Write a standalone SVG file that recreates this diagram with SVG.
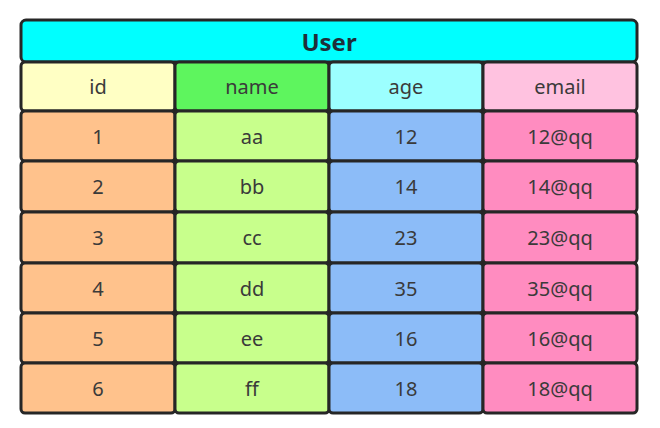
<svg xmlns="http://www.w3.org/2000/svg" width="660" height="428" viewBox="0 0 660 428">
<style>
.c{stroke:#262626;stroke-width:3}
.t{font-family:"Noto Sans","Open Sans","DejaVu Sans",sans-serif;font-size:20px;fill:#3a3a3a;text-anchor:middle;dominant-baseline:central}
.h{font-size:24px;font-weight:bold;fill:#1f2f3a}
.ih{fill:#FFFFC4}.nh{fill:#5EF55E}.ah{fill:#9CFFFF}.eh{fill:#FFC2E0}
.i{fill:#FFC28C}.n{fill:#C8FF8C}.a{fill:#8CBCF8}.e{fill:#FF8CC0}
</style>
<rect width="660" height="428" fill="#ffffff"/>
<g id="title"><rect class="c" x="21" y="20" width="616" height="42" rx="5" fill="#00FFFF"/><text class="t h" x="329" y="41">User</text></g>
<g id="header">
<g id="h-id"><rect class="c ih" x="21" y="62" width="154" height="49" rx="4"/><text class="t" x="98" y="86">id</text></g>
<g id="h-name"><rect class="c nh" x="175" y="62" width="154" height="49" rx="4"/><text class="t" x="252" y="86">name</text></g>
<g id="h-age"><rect class="c ah" x="329" y="62" width="154" height="49" rx="4"/><text class="t" x="406" y="86">age</text></g>
<g id="h-email"><rect class="c eh" x="483" y="62" width="154" height="49" rx="4"/><text class="t" x="560" y="86">email</text></g>
</g>
<g id="row1">
<g id="r1-id"><rect class="c i" x="21" y="111" width="154" height="50" rx="4"/><text class="t" x="98" y="136">1</text></g>
<g id="r1-name"><rect class="c n" x="175" y="111" width="154" height="50" rx="4"/><text class="t" x="252" y="136">aa</text></g>
<g id="r1-age"><rect class="c a" x="329" y="111" width="154" height="50" rx="4"/><text class="t" x="406" y="136">12</text></g>
<g id="r1-email"><rect class="c e" x="483" y="111" width="154" height="50" rx="4"/><text class="t" x="560" y="136">12@qq</text></g>
</g>
<g id="row2">
<g id="r2-id"><rect class="c i" x="21" y="161" width="154" height="51" rx="4"/><text class="t" x="98" y="186">2</text></g>
<g id="r2-name"><rect class="c n" x="175" y="161" width="154" height="51" rx="4"/><text class="t" x="252" y="186">bb</text></g>
<g id="r2-age"><rect class="c a" x="329" y="161" width="154" height="51" rx="4"/><text class="t" x="406" y="186">14</text></g>
<g id="r2-email"><rect class="c e" x="483" y="161" width="154" height="51" rx="4"/><text class="t" x="560" y="186">14@qq</text></g>
</g>
<g id="row3">
<g id="r3-id"><rect class="c i" x="21" y="212" width="154" height="51" rx="4"/><text class="t" x="98" y="237">3</text></g>
<g id="r3-name"><rect class="c n" x="175" y="212" width="154" height="51" rx="4"/><text class="t" x="252" y="237">cc</text></g>
<g id="r3-age"><rect class="c a" x="329" y="212" width="154" height="51" rx="4"/><text class="t" x="406" y="237">23</text></g>
<g id="r3-email"><rect class="c e" x="483" y="212" width="154" height="51" rx="4"/><text class="t" x="560" y="237">23@qq</text></g>
</g>
<g id="row4">
<g id="r4-id"><rect class="c i" x="21" y="263" width="154" height="50" rx="4"/><text class="t" x="98" y="288">4</text></g>
<g id="r4-name"><rect class="c n" x="175" y="263" width="154" height="50" rx="4"/><text class="t" x="252" y="288">dd</text></g>
<g id="r4-age"><rect class="c a" x="329" y="263" width="154" height="50" rx="4"/><text class="t" x="406" y="288">35</text></g>
<g id="r4-email"><rect class="c e" x="483" y="263" width="154" height="50" rx="4"/><text class="t" x="560" y="288">35@qq</text></g>
</g>
<g id="row5">
<g id="r5-id"><rect class="c i" x="21" y="313" width="154" height="50" rx="4"/><text class="t" x="98" y="338">5</text></g>
<g id="r5-name"><rect class="c n" x="175" y="313" width="154" height="50" rx="4"/><text class="t" x="252" y="338">ee</text></g>
<g id="r5-age"><rect class="c a" x="329" y="313" width="154" height="50" rx="4"/><text class="t" x="406" y="338">16</text></g>
<g id="r5-email"><rect class="c e" x="483" y="313" width="154" height="50" rx="4"/><text class="t" x="560" y="338">16@qq</text></g>
</g>
<g id="row6">
<g id="r6-id"><rect class="c i" x="21" y="363" width="154" height="50" rx="4"/><text class="t" x="98" y="388">6</text></g>
<g id="r6-name"><rect class="c n" x="175" y="363" width="154" height="50" rx="4"/><text class="t" x="252" y="388">ff</text></g>
<g id="r6-age"><rect class="c a" x="329" y="363" width="154" height="50" rx="4"/><text class="t" x="406" y="388">18</text></g>
<g id="r6-email"><rect class="c e" x="483" y="363" width="154" height="50" rx="4"/><text class="t" x="560" y="388">18@qq</text></g>
</g>
<g id="connectors"/>
</svg>
